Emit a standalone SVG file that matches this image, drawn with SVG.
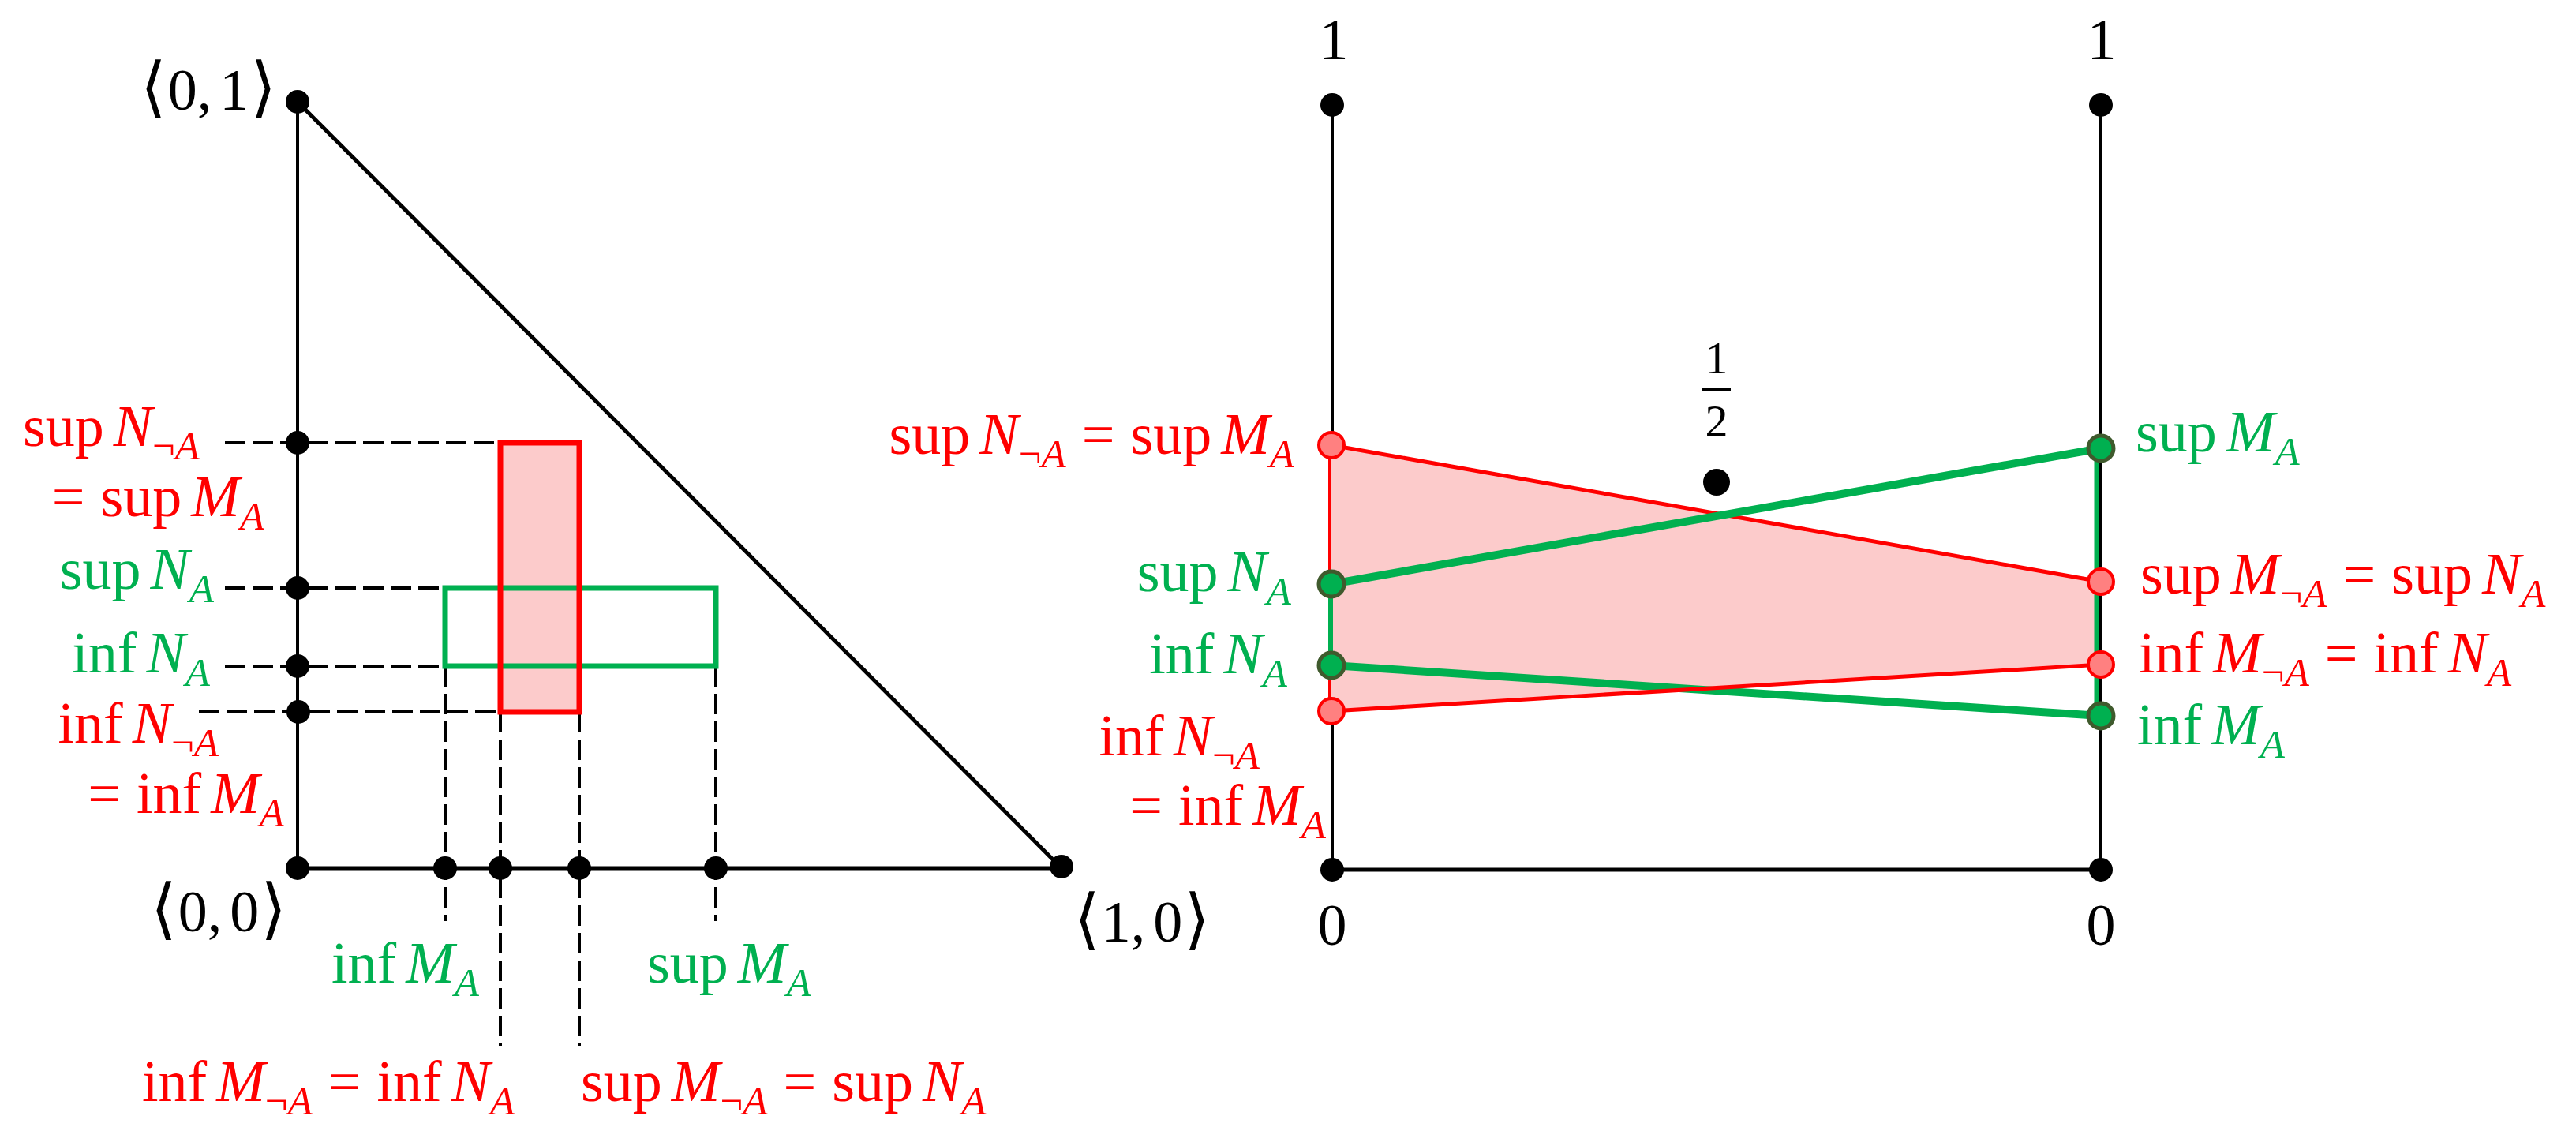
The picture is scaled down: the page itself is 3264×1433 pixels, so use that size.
<svg xmlns="http://www.w3.org/2000/svg" width="3264" height="1433" viewBox="0 0 3264 1433">
<style>
.t{font-family:"Liberation Serif","DejaVu Serif",serif;font-size:74px}
.r{fill:#ff0000}.g{fill:#00b050}.k{fill:#000}
.i{font-style:italic}
.sub{font-size:51px}
.br{font-family:"DejaVu Serif","Liberation Serif",serif;font-size:84px}
.ax{stroke:#000;stroke-width:4;fill:none}
.axb{stroke:#000;stroke-width:5;fill:none}
.dash{stroke:#000;stroke-width:4;stroke-dasharray:26 9;fill:none}
.dot{fill:#000}
.rp{fill:#ff8080;stroke:#ff0000;stroke-width:4}
.gp{fill:#00b050;stroke:#3f5a2d;stroke-width:5}
</style>
<rect width="3264" height="1433" fill="#fff"/>

<!-- LEFT PANEL -->
<g id="left-connectors">
  <line class="ax" x1="377" y1="129" x2="377" y2="1100"/>
  <line class="axb" x1="377" y1="1100" x2="1345" y2="1100"/>
  <line class="axb" x1="377" y1="129" x2="1345" y2="1100"/>
  <line class="dash" x1="285" y1="561" x2="634" y2="561"/>
  <line class="dash" x1="285" y1="745" x2="564" y2="745"/>
  <line class="dash" x1="285" y1="844" x2="564" y2="844"/>
  <line class="dash" x1="252" y1="902" x2="634" y2="902"/>
  <line class="dash" x1="564" y1="844" x2="564" y2="1167"/>
  <line class="dash" x1="907" y1="844" x2="907" y2="1167"/>
  <line class="dash" x1="634" y1="902" x2="634" y2="1325"/>
  <line class="dash" x1="734" y1="902" x2="734" y2="1325"/>
</g>
<g id="rect-neg">
  <rect x="634" y="561" width="100" height="341" fill="#fccbcb"/>
</g>
<g id="rect-A">
  <rect x="564" y="745" width="343" height="99" fill="none" stroke="#00b050" stroke-width="7"/>
</g>
<g id="rect-neg-border">
  <rect x="634" y="561" width="100" height="341" fill="none" stroke="#ff0000" stroke-width="7"/>
</g>

<g id="left-points">
  <circle class="dot" cx="377" cy="129" r="15"/>
  <circle class="dot" cx="377" cy="561" r="15"/>
  <circle class="dot" cx="377" cy="745" r="15"/>
  <circle class="dot" cx="377" cy="844" r="15"/>
  <circle class="dot" cx="378" cy="902" r="15"/>
  <circle class="dot" cx="377" cy="1100" r="15"/>
  <circle class="dot" cx="564" cy="1100" r="15"/>
  <circle class="dot" cx="634" cy="1100" r="15"/>
  <circle class="dot" cx="734" cy="1100" r="15"/>
  <circle class="dot" cx="907" cy="1100" r="15"/>
  <circle class="dot" cx="1345" cy="1098" r="15"/>
</g>

<g id="left-labels">
  <text class="t k" x="178" y="139"><tspan class="br">⟨</tspan><tspan dx="2">0,</tspan><tspan dx="10">1</tspan><tspan class="br" dx="2">⟩</tspan></text>
  <text class="t k" x="191" y="1180"><tspan class="br">⟨</tspan><tspan dx="2">0,</tspan><tspan dx="10">0</tspan><tspan class="br" dx="2">⟩</tspan></text>
  <text class="t k" x="1361" y="1193"><tspan class="br">⟨</tspan><tspan dx="2">1,</tspan><tspan dx="10">0</tspan><tspan class="br" dx="2">⟩</tspan></text>

  <text class="t r" x="253" y="565" text-anchor="end">sup<tspan class="i" dx="12">N</tspan><tspan class="sub" dy="17">¬</tspan><tspan class="sub i">A</tspan></text>
  <text class="t r" x="335" y="654" text-anchor="end">=<tspan dx="20">sup</tspan><tspan class="i" dx="12">M</tspan><tspan class="sub i" dy="17">A</tspan></text>
  <text class="t g" x="271" y="746" text-anchor="end">sup<tspan class="i" dx="12">N</tspan><tspan class="sub i" dy="17">A</tspan></text>
  <text class="t g" x="266" y="852" text-anchor="end">inf<tspan class="i" dx="12">N</tspan><tspan class="sub i" dy="17">A</tspan></text>
  <text class="t r" x="277" y="941" text-anchor="end">inf<tspan class="i" dx="12">N</tspan><tspan class="sub" dy="17">¬</tspan><tspan class="sub i">A</tspan></text>
  <text class="t r" x="360" y="1030" text-anchor="end">=<tspan dx="20">inf</tspan><tspan class="i" dx="12">M</tspan><tspan class="sub i" dy="17">A</tspan></text>

  <text class="t g" x="420" y="1245">inf<tspan class="i" dx="12">M</tspan><tspan class="sub i" dy="17">A</tspan></text>
  <text class="t g" x="820" y="1245">sup<tspan class="i" dx="12">M</tspan><tspan class="sub i" dy="17">A</tspan></text>
  <text class="t r" x="180" y="1395">inf<tspan class="i" dx="12">M</tspan><tspan class="sub" dy="17">¬</tspan><tspan class="sub i">A</tspan><tspan dy="-17" dx="20">=</tspan><tspan dx="20">inf</tspan><tspan class="i" dx="12">N</tspan><tspan class="sub i" dy="17">A</tspan></text>
  <text class="t r" x="736" y="1395">sup<tspan class="i" dx="12">M</tspan><tspan class="sub" dy="17">¬</tspan><tspan class="sub i">A</tspan><tspan dy="-17" dx="20">=</tspan><tspan dx="20">sup</tspan><tspan class="i" dx="12">N</tspan><tspan class="sub i" dy="17">A</tspan></text>
</g>

<!-- RIGHT PANEL -->
<g id="right-connectors">
  <line class="ax" x1="1688" y1="133" x2="1688" y2="1102"/>
  <line class="axb" x1="1688" y1="1102" x2="2662" y2="1102"/>
  <polygon points="1687,564 2662,737 2662,842 1687,901" fill="#fccbcb"/>
  <line x1="1685" y1="564" x2="1685" y2="901" stroke="#ff0000" stroke-width="4"/>
  <line x1="1686" y1="740" x2="1686" y2="843" stroke="#00b050" stroke-width="6"/>
  <line x1="2657" y1="568" x2="2657" y2="907" stroke="#00b050" stroke-width="7"/>
  <line class="ax" x1="2662" y1="133" x2="2662" y2="1102"/>
  <line x1="1687" y1="564" x2="2662" y2="737" stroke="#ff0000" stroke-width="5"/>
  <line x1="1687" y1="740" x2="2662" y2="568" stroke="#00b050" stroke-width="10"/>
  <line x1="1687" y1="843" x2="2662" y2="907" stroke="#00b050" stroke-width="10"/>
  <line x1="1687" y1="901" x2="2662" y2="842" stroke="#ff0000" stroke-width="5"/>
</g>

<g id="right-points">
  <circle class="dot" cx="1688" cy="133" r="15"/>
  <circle class="dot" cx="2662" cy="133" r="15"/>
  <circle class="dot" cx="1688" cy="1102" r="15"/>
  <circle class="dot" cx="2662" cy="1102" r="15"/>
  <circle class="dot" cx="2175" cy="611" r="17"/>
  <circle class="rp" cx="1687" cy="564" r="16"/>
  <circle class="rp" cx="1687" cy="901" r="16"/>
  <circle class="rp" cx="2662" cy="737" r="16"/>
  <circle class="rp" cx="2662" cy="842" r="16"/>
  <circle class="gp" cx="1687" cy="740" r="16"/>
  <circle class="gp" cx="1687" cy="843" r="16"/>
  <circle class="gp" cx="2662" cy="568" r="16"/>
  <circle class="gp" cx="2662" cy="907" r="16"/>
</g>

<g id="right-labels">
  <text class="t k" x="1690" y="75" text-anchor="middle">1</text>
  <text class="t k" x="2663" y="75" text-anchor="middle">1</text>
  <text class="t k" x="1688" y="1197" text-anchor="middle">0</text>
  <text class="t k" x="2662" y="1197" text-anchor="middle">0</text>
  <text class="t k" x="2175" y="473" text-anchor="middle" style="font-size:58px">1</text>
  <line x1="2157" y1="493.5" x2="2193" y2="493.5" stroke="#000" stroke-width="4"/>
  <text class="t k" x="2175" y="553" text-anchor="middle" style="font-size:58px">2</text>

  <text class="t r" x="1640" y="575" text-anchor="end">sup<tspan class="i" dx="12">N</tspan><tspan class="sub" dy="17">¬</tspan><tspan class="sub i">A</tspan><tspan dy="-17" dx="20">=</tspan><tspan dx="20">sup</tspan><tspan class="i" dx="12">M</tspan><tspan class="sub i" dy="17">A</tspan></text>
  <text class="t g" x="1636" y="749" text-anchor="end">sup<tspan class="i" dx="12">N</tspan><tspan class="sub i" dy="17">A</tspan></text>
  <text class="t g" x="1631" y="853" text-anchor="end">inf<tspan class="i" dx="12">N</tspan><tspan class="sub i" dy="17">A</tspan></text>
  <text class="t r" x="1596" y="957" text-anchor="end">inf<tspan class="i" dx="12">N</tspan><tspan class="sub" dy="17">¬</tspan><tspan class="sub i">A</tspan></text>
  <text class="t r" x="1680" y="1045" text-anchor="end">=<tspan dx="20">inf</tspan><tspan class="i" dx="12">M</tspan><tspan class="sub i" dy="17">A</tspan></text>

  <text class="t g" x="2706" y="572">sup<tspan class="i" dx="12">M</tspan><tspan class="sub i" dy="17">A</tspan></text>
  <text class="t r" x="2712" y="752">sup<tspan class="i" dx="12">M</tspan><tspan class="sub" dy="17">¬</tspan><tspan class="sub i">A</tspan><tspan dy="-17" dx="20">=</tspan><tspan dx="20">sup</tspan><tspan class="i" dx="12">N</tspan><tspan class="sub i" dy="17">A</tspan></text>
  <text class="t r" x="2710" y="852">inf<tspan class="i" dx="12">M</tspan><tspan class="sub" dy="17">¬</tspan><tspan class="sub i">A</tspan><tspan dy="-17" dx="20">=</tspan><tspan dx="20">inf</tspan><tspan class="i" dx="12">N</tspan><tspan class="sub i" dy="17">A</tspan></text>
  <text class="t g" x="2708" y="943">inf<tspan class="i" dx="12">M</tspan><tspan class="sub i" dy="17">A</tspan></text>
</g>
</svg>
